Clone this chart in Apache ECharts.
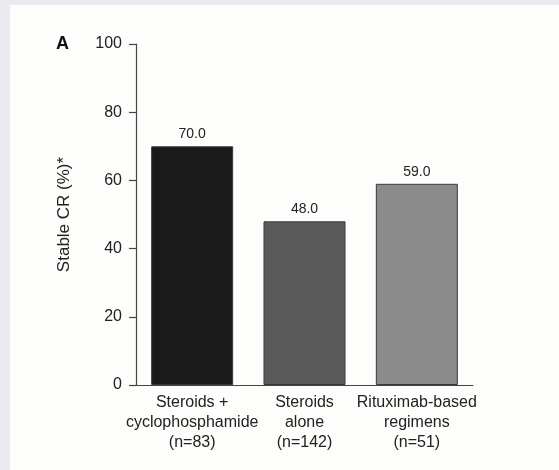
<!DOCTYPE html>
<html>
<head>
<meta charset="utf-8">
<script src="https://cdn.jsdelivr.net/npm/echarts@6/dist/echarts.min.js"></script>
<style>
  body, html {
    margin: 0;
    padding: 0;
    width: 559px;
    height: 470px;
    background: #e9ebef;
    overflow: hidden;
  }
  #panel {
    position: absolute;
    left: 10px;
    top: 5px;
    width: 549px;
    height: 465px;
    background: #fdfdfc;
  }
  #chart {
    position: absolute;
    left: 0;
    top: 0;
    width: 559px;
    height: 470px;
  }
</style>
</head>
<body>
<div id="panel"></div>
<div id="chart"></div>
<script type="text/javascript">
  // data
  const categories = [
    "Steroids +\ncyclophosphamide\n(n=83)",
    "Steroids\nalone\n(n=142)",
    "Rituximab-based\nregimens\n(n=51)"
  ];
  const stableCR = [70.0, 48.0, 59.0];
  const barColors = ["#1b1b1b", "#5a5a5a", "#8b8b8b"];
  const yTicks = [0, 20, 40, 60, 80, 100];

  const font = "'Liberation Sans', Arial, Helvetica, sans-serif";
  const textColor = "#222";

  let chart = echarts.init(document.getElementById("chart"), null, { renderer: "canvas" });
  let option = {
    backgroundColor: "transparent",
    animation: false,
    grid: {
      left: 136,
      right: 86,
      top: 44,
      bottom: 85,
    },
    graphic: [
      {
        type: "text",
        left: 56,
        top: 35,
        style: {
          text: "A",
          font: "bold 18px " + font,
          fill: "#111",
        },
      },
    ],
    xAxis: {
      type: "category",
      data: categories,
      axisLine: { lineStyle: { color: "#444", width: 1.2 } },
      axisTick: { show: false },
      axisLabel: {
        interval: 0,
        margin: 8,
        fontFamily: font,
        fontSize: 16,
        lineHeight: 20,
        color: textColor,
      },
    },
    yAxis: {
      type: "value",
      min: yTicks[0],
      max: yTicks[yTicks.length - 1],
      interval: 20,
      name: "Stable CR (%)*",
      nameLocation: "middle",
      nameGap: 63,
      nameRotate: 90,
      nameTextStyle: {
        fontFamily: font,
        fontSize: 17,
        color: textColor,
      },
      splitLine: { show: false },
      axisLine: { show: true, lineStyle: { color: "#444", width: 1.2 } },
      axisTick: { show: true, length: 7, lineStyle: { color: "#444", width: 1.2 } },
      axisLabel: {
        margin: 14,
        fontFamily: font,
        fontSize: 16,
        color: textColor,
      },
    },
    series: [
      {
        type: "bar",
        barWidth: "73%",
        data: stableCR.map((v, i) => ({
          value: v,
          itemStyle: { color: barColors[i] },
        })),
        itemStyle: {
          borderColor: "#3a3a3a",
          borderWidth: 1,
        },
        label: {
          show: true,
          position: "top",
          distance: 5,
          fontFamily: font,
          fontSize: 14,
          color: textColor,
          formatter: function (params) {
            return params.value.toFixed(1);
          },
        },
      },
    ],
  };
  chart.setOption(option);
</script>
</body>
</html>
